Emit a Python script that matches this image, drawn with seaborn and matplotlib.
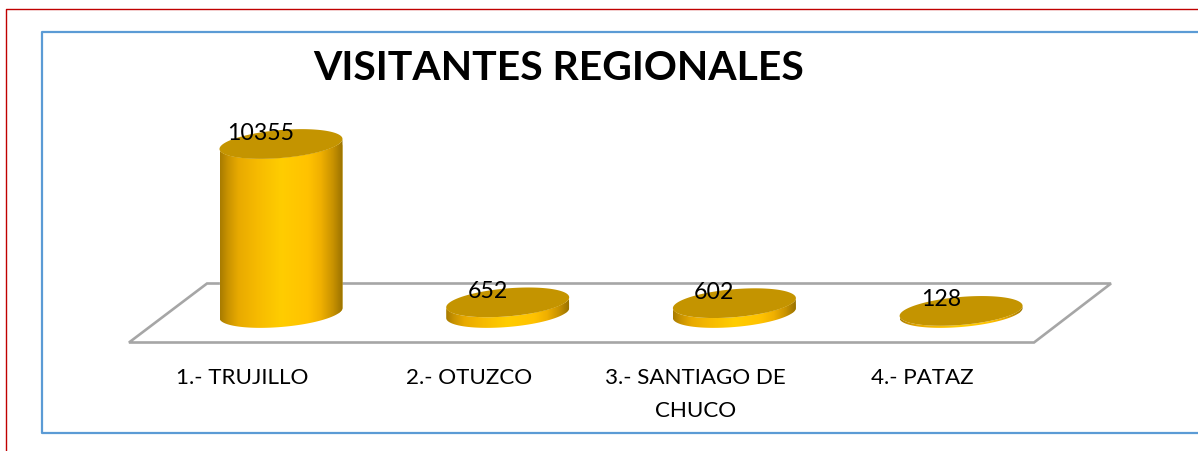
import numpy as np
import matplotlib
matplotlib.use("Agg")
import matplotlib.pyplot as plt
import seaborn as sns
from matplotlib.colors import LinearSegmentedColormap
from matplotlib.lines import Line2D
from matplotlib.patches import Polygon

categories = ["1.- TRUJILLO", "2.- OTUZCO", "3.- SANTIAGO DE\nCHUCO", "4.- PATAZ"]
visitors = [10355, 652, 602, 128]
title = "VISITANTES REGIONALES"

W, H = 1198, 452
sns.set_style("white")
plt.rcParams["font.family"] = ["Lato", "DejaVu Sans"]

fig = plt.figure(figsize=(W / 100, H / 100), dpi=100, facecolor="white")
ax = fig.add_axes([0, 0, 1, 1], zorder=1)
ax.patch.set_alpha(0)


def fig_xy(x, y):
    return x / W, 1 - (y + 0.5) / H


# frames and chart floor, in figure pixels
red = "#c00000"
blue = "#5b9bd5"
fig.add_artist(Line2D(*zip(fig_xy(6, H), fig_xy(6, 9), fig_xy(W, 9)), color=red, lw=1.0, zorder=-2))
fig.add_artist(Line2D(*zip(fig_xy(W, 32), fig_xy(42, 32), fig_xy(42, 433), fig_xy(W, 433)), color=blue, lw=1.6, zorder=-2))
floor = [fig_xy(129, 343), fig_xy(1034, 343), fig_xy(1111, 284), fig_xy(207, 284)]
fig.add_artist(Polygon(floor, closed=True, fill=False, edgecolor="#a6a6a6", lw=1.9, transform=fig.transFigure, zorder=-1))

px_x = 226.7  # pixels per category
px_y = 169 / 10355  # pixels per visitor
base_y = 314
sns.barplot(x=categories, y=visitors, width=123 / px_x, color="#ffc000", ax=ax)
ax.axis("off")

cyl = LinearSegmentedColormap.from_list("cyl", [
    (0.0, "#a87c00"), (0.06, "#c89200"), (0.15, "#e8aa00"), (0.3, "#f6ba00"), (0.5, "#ffcd00"),
    (0.72, "#ffc200"), (0.82, "#f0b000"), (0.92, "#c89200"), (1.0, "#9a7200"),
])
strip = np.linspace(0, 1, 256).reshape(1, -1)
t = np.linspace(0, 2 * np.pi, 181)
b = 14 / px_y
k = 5 / px_y


def ring(cx, a, y, tt):
    return np.column_stack([cx + a * np.cos(tt), y + b * np.sin(tt) + k * np.cos(tt)])


for bar, val in zip(ax.patches, visitors):
    cx = bar.get_x() + bar.get_width() / 2
    a = bar.get_width() / 2
    low = np.linspace(np.pi, 2 * np.pi, 91)
    body = Polygon(np.vstack([ring(cx, a, 0, low), ring(cx, a, val, low[::-1])]), closed=True,
                   transform=ax.transData, facecolor="none", edgecolor="none")
    ax.add_patch(body)
    bar.set_clip_path(body)
    img = ax.imshow(strip, cmap=cyl, aspect="auto", zorder=2, interpolation="bilinear",
                    extent=(cx - a, cx + a, -b * 1.2, val + b * 1.2))
    img.set_clip_path(body)
    ax.add_patch(Polygon(ring(cx, a, val, t), closed=True, facecolor="#c49400", edgecolor="none", zorder=3))
ax.set_xlim(-281 / px_x, (W - 281) / px_x)
ax.set_ylim(-(H - base_y) / px_y, base_y / px_y)

for i, val in enumerate(visitors):
    ax.annotate(str(val), xy=(i, val), xytext=(-20, 12), textcoords="offset pixels",
                ha="center", va="center", fontsize=16.7, color="black", zorder=5)
    ax.annotate(categories[i], xy=(i, 0), xytext=(-39, -54), textcoords="offset pixels",
                ha="center", va="top", fontsize=16.1, color="black", linespacing=1.8, zorder=5)

fig.text(559 / W, 1 - 68 / H, title, ha="center", va="center", fontsize=29.4, fontweight="bold", color="black")

fig.savefig("out.png", dpi=100)
